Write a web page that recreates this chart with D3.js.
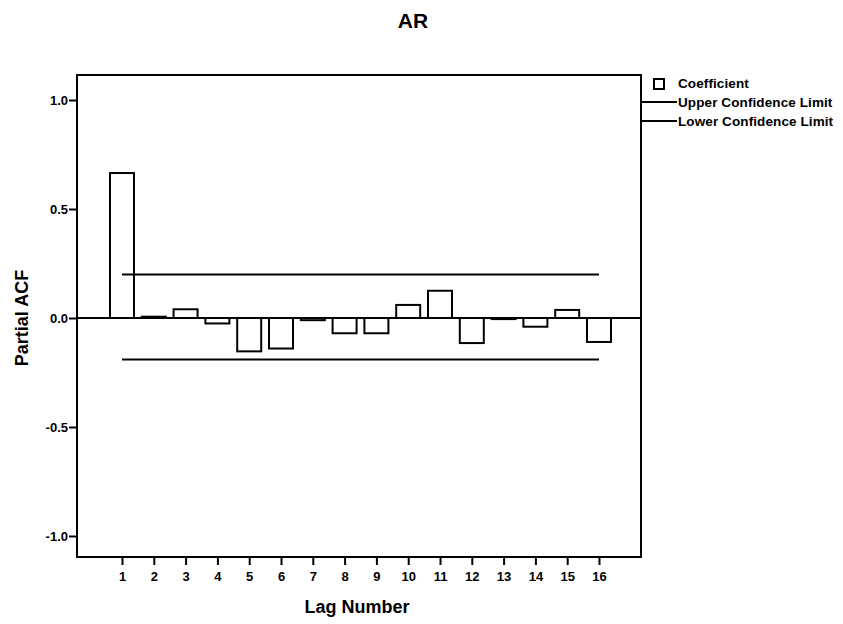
<!DOCTYPE html>
<html>
<head>
<meta charset="utf-8">
<script src="https://cdn.jsdelivr.net/npm/d3@7"></script>
<style>
  body { margin: 0; background: #fff; }
  text { font-family: "Liberation Sans", Arial, sans-serif; font-weight: bold; fill: #000; }
</style>
</head>
<body>
<div id="chart"></div>
<script>
// data
const lags = [1, 2, 3, 4, 5, 6, 7, 8, 9, 10, 11, 12, 13, 14, 15, 16];
const pacf = [0.665, 0.006, 0.04, -0.025, -0.153, -0.14, -0.01, -0.07, -0.07, 0.06, 0.125, -0.115, -0.005, -0.04, 0.037, -0.11];
const upperLimit = 0.2;
const lowerLimit = -0.19;
const yTicks = [-1.0, -0.5, 0.0, 0.5, 1.0];
const legendItems = ['Coefficient', 'Upper Confidence Limit', 'Lower Confidence Limit'];

const W = 843, H = 624;
const frame = { left: 77, right: 641, top: 75, bottom: 557 };

const svg = d3.select('#chart').append('svg')
  .attr('width', W)
  .attr('height', H);

/* scales */
const x = d3.scaleLinear().domain([1, 16]).range([122, 599]);
const y = d3.scaleLinear().domain([-1, 1]).range([536, 100]);
const barW = 24;

/* title */
svg.append('text')
  .attr('x', 413).attr('y', 28)
  .attr('text-anchor', 'middle')
  .style('font-size', '21px')
  .text('AR');

/* frame */
svg.append('rect')
  .attr('x', frame.left).attr('y', frame.top)
  .attr('width', frame.right - frame.left)
  .attr('height', frame.bottom - frame.top)
  .attr('fill', 'none')
  .attr('stroke', '#000')
  .attr('stroke-width', 2);

/* axes */
const fmtY = (d) => d3.format('.1f')(d).replace('\u2212', '-');
const yAxis = d3.axisLeft(y).tickValues(yTicks).tickFormat(fmtY).tickSize(8).tickPadding(1);
const yg = svg.append('g').attr('transform', `translate(${frame.left},0)`).call(yAxis);
const xAxis = d3.axisBottom(x).tickValues(lags).tickFormat(d3.format('d')).tickSize(8).tickPadding(7);
const xg = svg.append('g').attr('transform', `translate(0,${frame.bottom})`).call(xAxis);
[yg, xg].forEach((g) => {
  g.select('.domain').remove();
  g.selectAll('.tick line').attr('stroke', '#000').attr('stroke-width', 2);
  g.selectAll('.tick text').style('font-size', '13px').attr('fill', '#000');
});

/* axis titles */
svg.append('text')
  .attr('transform', `translate(28,${y(0)})rotate(-90)`)
  .attr('text-anchor', 'middle')
  .style('font-size', '18px')
  .text('Partial ACF');
svg.append('text')
  .attr('x', 357).attr('y', 613)
  .attr('text-anchor', 'middle')
  .style('font-size', '18px')
  .text('Lag Number');

/* bars */
svg.selectAll('.bar')
  .data(lags.map((l, i) => ({ lag: l, v: pacf[i] })))
  .join('rect')
  .attr('class', 'bar')
  .attr('x', (d) => x(d.lag) - barW / 2)
  .attr('y', (d) => Math.min(y(d.v), y(0)))
  .attr('width', barW)
  .attr('height', (d) => Math.abs(y(d.v) - y(0)))
  .attr('fill', '#fff')
  .attr('stroke', '#000')
  .attr('stroke-width', 2);

/* confidence limits, drawn over the bars */
[upperLimit, lowerLimit].forEach((v) => {
  svg.append('line')
    .attr('x1', x(1)).attr('x2', x(16))
    .attr('y1', y(v)).attr('y2', y(v))
    .attr('stroke', '#000')
    .attr('stroke-width', 2);
});

/* zero line */
svg.append('line')
  .attr('x1', frame.left).attr('x2', frame.right)
  .attr('y1', y(0)).attr('y2', y(0))
  .attr('stroke', '#000')
  .attr('stroke-width', 2);

/* legend */
const legend = svg.append('g');
legend.append('rect')
  .attr('x', 654).attr('y', 79)
  .attr('width', 10).attr('height', 10)
  .attr('fill', '#fff')
  .attr('stroke', '#000')
  .attr('stroke-width', 2);
[1, 2].forEach((i) => {
  legend.append('line')
    .attr('x1', 641).attr('x2', 677)
    .attr('y1', 83 + i * 19).attr('y2', 83 + i * 19)
    .attr('stroke', '#000')
    .attr('stroke-width', 2);
});
legend.selectAll('.legend-label')
  .data(legendItems)
  .join('text')
  .attr('class', 'legend-label')
  .attr('x', 678)
  .attr('y', (d, i) => 88 + i * 19)
  .style('font-size', '13.5px')
  .style('letter-spacing', '0.1px')
  .text((d) => d);
</script>
</body>
</html>
